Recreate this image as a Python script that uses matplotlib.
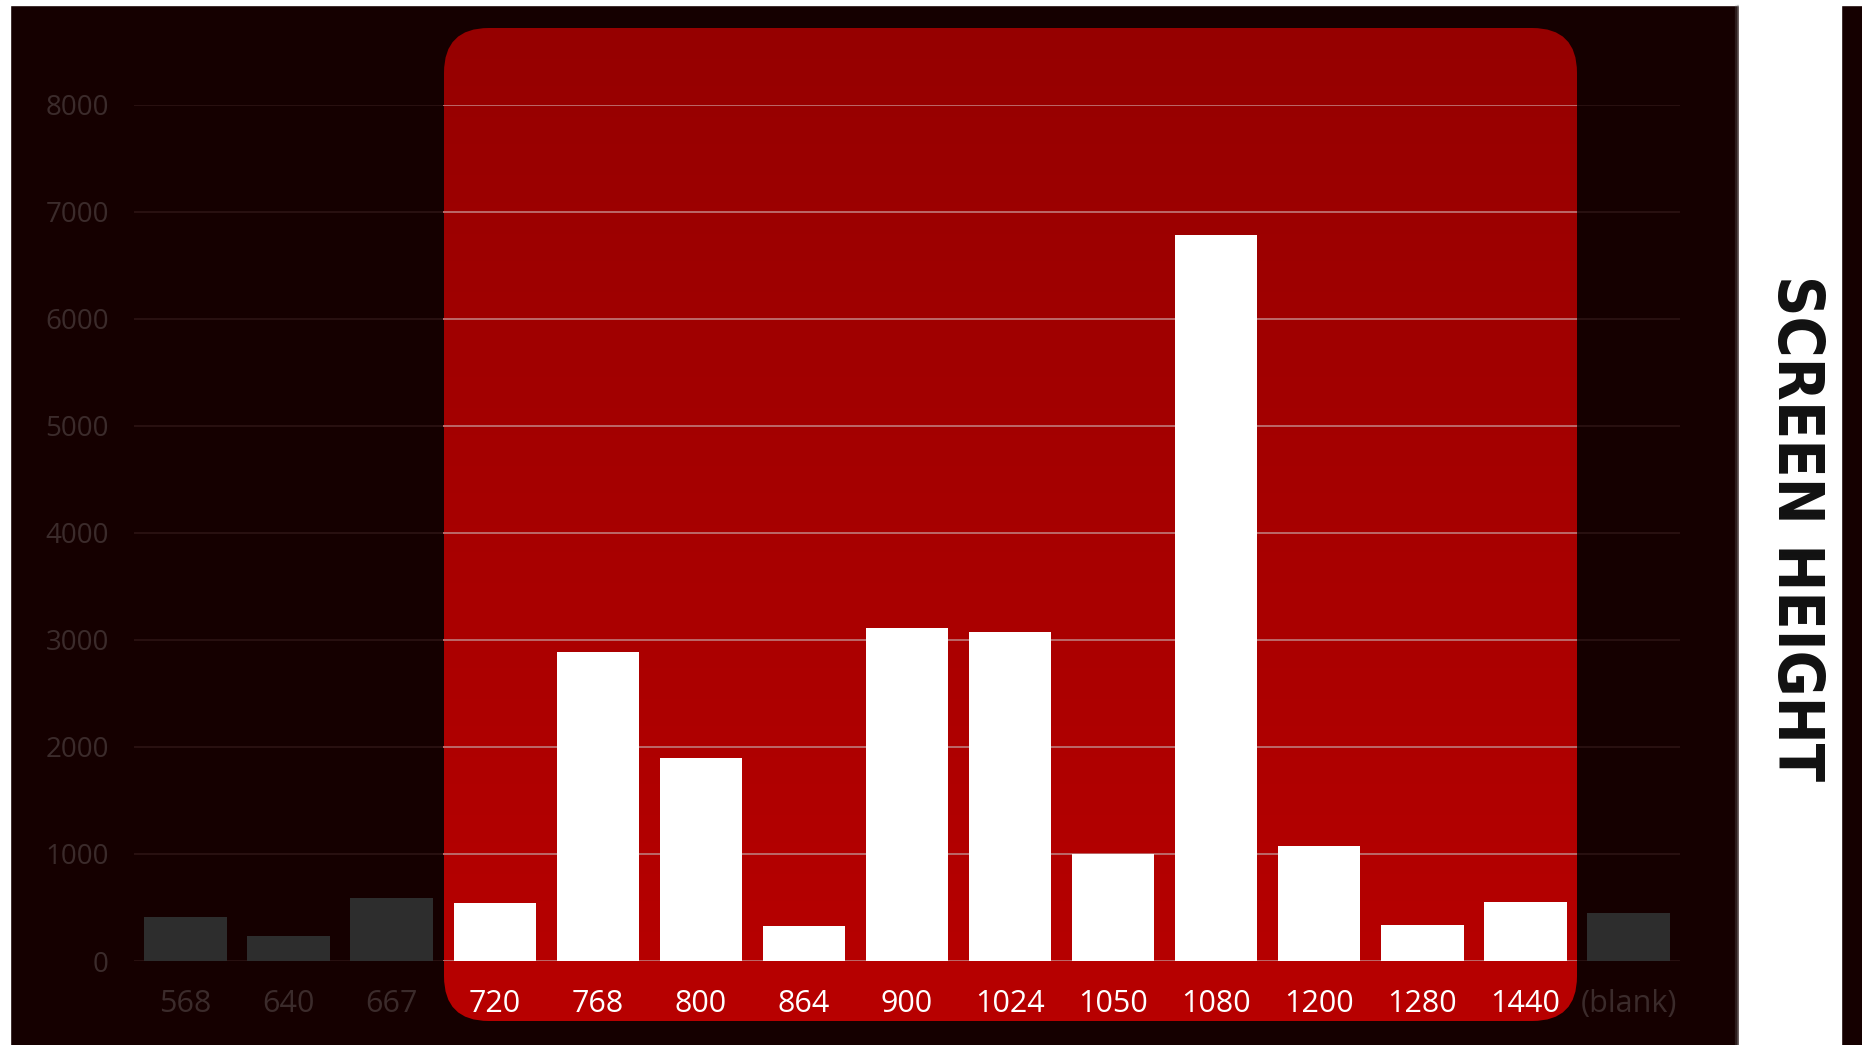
import numpy as np
import matplotlib
matplotlib.use('Agg')
import matplotlib.pyplot as plt
from matplotlib.patches import FancyBboxPatch, Rectangle

# data
categories = ['568', '640', '667', '720', '768', '800', '864', '900', '1024',
              '1050', '1080', '1200', '1280', '1440', '(blank)']
counts = [410, 235, 590, 545, 2885, 1900, 325, 3115, 3070, 1000, 6780, 1075, 335, 555, 445]
highlighted = [False, False, False, True, True, True, True, True, True,
               True, True, True, True, True, False]
yticks = [0, 1000, 2000, 3000, 4000, 5000, 6000, 7000, 8000]

W, H = 1862, 1045
bg = '#150000'

fig = plt.figure(figsize=(W / 100, H / 100), dpi=100)
fig.patch.set_facecolor(bg)

# white strips on top/left edge
fig.patches.append(Rectangle((0, 0), 10 / W, 1, transform=fig.transFigure, color='white', zorder=0))
fig.patches.append(Rectangle((0, 1 - 5 / H), 1, 5 / H, transform=fig.transFigure, color='white', zorder=0))

# red rounded highlight panel with vertical gradient
rx0, rx1 = 444 / W, 1577 / W
ry0, ry1 = 1 - 1021 / H, 1 - 28 / H
bg_ax = fig.add_axes([0, 0, 1, 1], zorder=0)
bg_ax.set_xlim(0, 1)
bg_ax.set_ylim(0, 1)
bg_ax.axis('off')
grad = np.linspace(0, 1, 256).reshape(-1, 1)
cmap = matplotlib.colors.LinearSegmentedColormap.from_list('r', ['#b80000', '#960000'])
im = bg_ax.imshow(grad, extent=[rx0, rx1, ry0, ry1], origin='lower', cmap=cmap, aspect='auto')
panel = FancyBboxPatch((rx0, ry0), rx1 - rx0, ry1 - ry0,
                       boxstyle='round,pad=0,rounding_size=0.024',
                       mutation_aspect=W / H,
                       facecolor='none', edgecolor='none', transform=bg_ax.transData)
bg_ax.add_patch(panel)
im.set_clip_path(panel)

# right white panel with soft shadow edges
for dx, a in [(-4, 0.15), (-2, 0.3)]:
    fig.patches.append(Rectangle(((1739 + dx) / W, 0), 6 / W, 1 - 5 / H, transform=fig.transFigure,
                                 color='#888888', alpha=a, zorder=1))
fig.patches.append(Rectangle((1739 / W, 0), 102 / W, 1 - 3 / H, transform=fig.transFigure,
                             color='white', zorder=1))
fig.text(1795 / W, 1 - 528 / H, 'SCREEN HEIGHT', rotation=-90, ha='center', va='center',
         fontsize=45, fontweight='bold', fontstretch='condensed', color='#111111',
         family='DejaVu Sans')

# main chart
ax = fig.add_axes([134 / W, 1 - 961 / H, (1680 - 134) / W, (961 - 104.5) / H], zorder=2)
ax.patch.set_alpha(0)
x = np.arange(len(categories))

for t in yticks:
    ax.hlines(t, -0.5, 14.5, color='#2c1414', lw=1.2, zorder=1)
    ax.hlines(t, 2.5, 13.5, color='#e08080', lw=1.3, alpha=0.85, zorder=1)

colors = ['white' if h else '#2d2d2d' for h in highlighted]
ax.bar(x, counts, width=0.8, color=colors, zorder=3)

ax.set_xlim(-0.5, 14.5)
ax.set_ylim(0, 8000)
ax.set_yticks(yticks)
ax.set_yticklabels([str(t) for t in yticks], fontsize=20, color='#3b2b2b', family='Open Sans')
ax.set_xticks(x)
ax.set_xticklabels(categories, fontsize=22, family='Open Sans')
for lab, h in zip(ax.get_xticklabels(), highlighted):
    lab.set_color('white' if h else '#3b2b2b')
ax.tick_params(axis='both', length=0)
ax.tick_params(axis='x', pad=20)
ax.tick_params(axis='y', pad=18)
for s in ax.spines.values():
    s.set_visible(False)

fig.savefig('out.png', dpi=100, facecolor=bg)
